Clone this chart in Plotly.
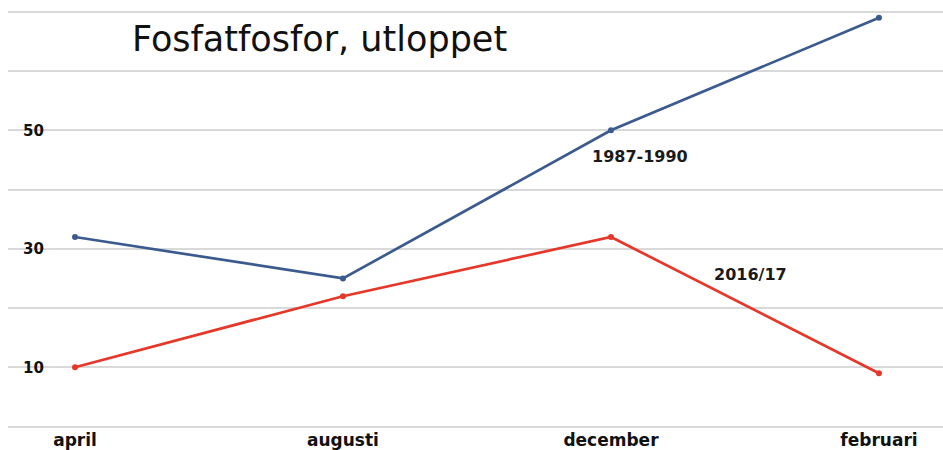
import plotly.graph_objects as go

# Data
months = ["april", "augusti", "december", "februari"]
period_1987_1990 = [32, 25, 50, 69]
period_2016_17 = [10, 22, 32, 9]

y_grid_vals = [0, 10, 20, 30, 40, 50, 60, 70]
y_grid_text = ["", "10", "", "30", "", "50", "", ""]

BLUE = "#3b5b8f"
RED = "#e5382b"
GRID = "#d9d9d9"
BOLD_FONT = "DejaVu Sans"

fig = go.Figure()

fig.add_trace(go.Scatter(
    x=months, y=period_1987_1990, mode="lines+markers",
    line=dict(color=BLUE, width=2.7),
    marker=dict(color=BLUE, size=6),
    name="1987-1990", showlegend=False,
))
fig.add_trace(go.Scatter(
    x=months, y=period_2016_17, mode="lines+markers",
    line=dict(color=RED, width=2.7),
    marker=dict(color=RED, size=6),
    name="2016/17", showlegend=False,
))

# Series labels
label_font = dict(family=BOLD_FONT, size=16, color="#1a1a1a", weight="bold")
fig.add_annotation(x=2.108, y=45.5, xref="x", yref="y", text="1987-1990",
                   showarrow=False, font=label_font)
fig.add_annotation(x=2.522, y=25.6, xref="x", yref="y", text="2016/17",
                   showarrow=False, font=label_font)

# Title
fig.add_annotation(x=(130 - 8) / 935, y=1 - 17 / 430, xref="paper", yref="paper",
                   text="Fosfatfosfor, utloppet", showarrow=False,
                   xanchor="left", yanchor="top",
                   font=dict(family="DejaVu Sans", size=35, color="#111111"))

fig.update_layout(
    width=943, height=450,
    margin=dict(l=8, r=0, t=0, b=20),
    paper_bgcolor="white", plot_bgcolor="white",
    xaxis=dict(
        type="category", range=[-0.25, 3.239],
        showgrid=False, zeroline=False, showline=False, ticks="",
        tickfont=dict(family=BOLD_FONT, size=17, color="#111111", weight="bold"),
    ),
    yaxis=dict(
        range=[-0.25, 72], tickmode="array", tickvals=y_grid_vals, ticktext=y_grid_text,
        showgrid=True, gridcolor=GRID, gridwidth=1.5, zeroline=False, showline=False,
        ticks="inside", ticklen=15, tickcolor="rgba(0,0,0,0)",
        ticklabelposition="inside",
        tickfont=dict(family=BOLD_FONT, size=15, color="#111111", weight="bold"),
    ),
)

fig.write_html("out.html")
